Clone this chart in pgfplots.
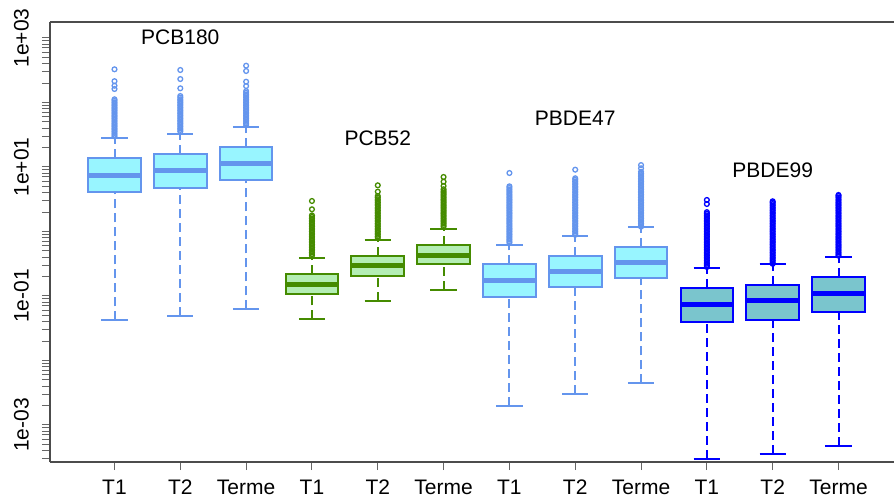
\documentclass[border=0pt]{standalone}
\usepackage{fontspec}
\setmainfont{Liberation Sans}
\usepackage{pgfplots}
\pgfplotsset{compat=1.18}
\definecolor{cfill}{HTML}{98F5FF}
\definecolor{cline}{HTML}{6495ED}
\definecolor{gfill}{HTML}{B4EEB4}
\definecolor{gline}{HTML}{458B00}
\definecolor{dfill}{HTML}{7AC5CD}
\definecolor{dline}{HTML}{0000FF}
\newcommand{\bigfont}{\fontsize{21}{25}\selectfont}
% #1 line colour, #2 fill colour, #3 position, #4 lower whisker, #5 Q1, #6 median, #7 Q3, #8 upper whisker
\newcommand{\bx}[8]{%
  \pgfmathsetmacro{\bL}{#3-0.4}\pgfmathsetmacro{\bR}{#3+0.4}%
  \pgfmathsetmacro{\cL}{#3-0.2}\pgfmathsetmacro{\cR}{#3+0.2}%
  \addplot[draw=#1, line width=2pt, dash pattern=on 9pt off 5pt] coordinates {(#3,#4) (#3,#5)};
  \addplot[draw=#1, line width=2pt, dash pattern=on 9pt off 5pt] coordinates {(#3,#7) (#3,#8)};
  \addplot[draw=#1, line width=2pt] coordinates {(\cL,#4) (\cR,#4)};
  \addplot[draw=#1, line width=2pt] coordinates {(\cL,#8) (\cR,#8)};
  \addplot[draw=#1, fill=#2, line width=2pt] coordinates {(\bL,#5) (\bR,#5) (\bR,#7) (\bL,#7)} --cycle;
  \addplot[draw=#1, line width=5pt] coordinates {(\bL,#6) (\bR,#6)};
}
\pgfplotsset{
  omark/.style={only marks, mark=o, mark size=2.4pt,
    mark options={draw=#1, fill=none, solid, line width=1.3pt}},
}
\begin{document}
\begin{tikzpicture}
\path[use as bounding box] (-50pt,-37pt) rectangle (844pt,462pt);
\begin{axis}[
  scale only axis, width=853pt, height=440pt,
  xmin=0.02, xmax=12.98,
  ymode=log, ymin=2.667e-4, ymax=1770,
  axis x line*=box, axis y line*=left,
  axis line style={line width=1.3pt, black!70},
  tick style={line width=1pt, black!60},
  tick align=outside,
  major tick length=8pt, minor tick length=8pt,
  xtick={1,...,12}, xtick pos=left,
  xticklabels={T1,T2,Terme,T1,T2,Terme,T1,T2,Terme,T1,T2,Terme},
  xticklabel style={font=\bigfont, inner sep=0pt, anchor=north, yshift=-10pt},
  ytick={1e-3,1e-1,1e1,1e3}, ytick pos=left,
  yticklabels={1e-03,1e-01,1e+01,1e+03},
  yticklabel style={font=\bigfont, rotate=90, anchor=south, inner sep=0pt, yshift=13pt},
  minor ytick={3e-4,4e-4,5e-4,6e-4,7e-4,8e-4,9e-4,
    2e-3,3e-3,4e-3,5e-3,6e-3,7e-3,8e-3,9e-3,1e-2,
    2e-2,3e-2,4e-2,5e-2,6e-2,7e-2,8e-2,9e-2,
    2e-1,3e-1,4e-1,5e-1,6e-1,7e-1,8e-1,9e-1,1,
    2,3,4,5,6,7,8,9,
    20,30,40,50,60,70,80,90,100,
    200,300,400,500,600,700,800,900},
  /pgf/number format/assume math mode=true,
]
% PCB180
\bx{cline}{cfill}{1}{0.042}{4.05}{7.5}{13.9}{27.9}
\addplot[omark=cline] table[row sep=\\, x expr=1, y index=0] {v\\29.9\\31.6\\33.5\\35.5\\37.6\\39.8\\42.2\\44.7\\47.3\\50.1\\53.1\\56.2\\59.6\\63.1\\66.8\\70.8\\75.0\\79.4\\84.1\\89.1\\94.4\\100\\106\\112\\162\\182\\214\\327\\};
\bx{cline}{cfill}{2}{0.0495}{4.78}{8.98}{16.1}{32.8}
\addplot[omark=cline] table[row sep=\\, x expr=2, y index=0] {v\\35.5\\37.6\\39.8\\42.2\\44.7\\47.3\\50.1\\53.1\\56.2\\59.6\\63.1\\66.8\\70.8\\75.0\\79.4\\84.1\\89.1\\94.4\\100\\106\\112\\119\\126\\166\\231\\319\\};
\bx{cline}{cfill}{3}{0.0622}{6.3}{11.5}{20.4}{41.7}
\addplot[omark=cline] table[row sep=\\, x expr=3, y index=0] {v\\44.7\\47.3\\50.1\\53.1\\56.2\\59.6\\63.1\\66.8\\70.8\\75.0\\79.4\\84.1\\89.1\\94.4\\100\\106\\112\\119\\126\\133\\141\\150\\180\\210\\308\\372\\};
% PCB52
\bx{gline}{gfill}{4}{0.0435}{0.107}{0.152}{0.219}{0.393}
\addplot[omark=gline] table[row sep=\\, x expr=4, y index=0] {v\\0.422\\0.447\\0.473\\0.501\\0.531\\0.562\\0.596\\0.631\\0.668\\0.708\\0.750\\0.794\\0.841\\0.891\\0.944\\1.0\\1.059\\1.122\\1.189\\1.259\\1.334\\1.413\\1.496\\1.585\\1.679\\1.778\\2.21\\2.97\\};
\bx{gline}{gfill}{5}{0.0836}{0.206}{0.292}{0.417}{0.738}
\addplot[omark=gline] table[row sep=\\, x expr=5, y index=0] {v\\0.794\\0.841\\0.891\\0.944\\1.0\\1.059\\1.122\\1.189\\1.259\\1.334\\1.413\\1.496\\1.585\\1.679\\1.778\\1.884\\1.995\\2.113\\2.239\\2.371\\2.512\\2.661\\2.818\\2.985\\3.162\\3.350\\3.548\\4.14\\5.20\\};
\bx{gline}{gfill}{6}{0.125}{0.310}{0.421}{0.618}{1.10}
\addplot[omark=gline] table[row sep=\\, x expr=6, y index=0] {v\\1.189\\1.259\\1.334\\1.413\\1.496\\1.585\\1.679\\1.778\\1.884\\1.995\\2.113\\2.239\\2.371\\2.512\\2.661\\2.818\\2.985\\3.162\\3.350\\3.548\\3.758\\3.981\\4.217\\4.51\\5.07\\5.92\\7.0\\};
% PBDE47
\bx{cline}{cfill}{7}{0.00197}{0.0955}{0.171}{0.310}{0.618}
\addplot[omark=cline] table[row sep=\\, x expr=7, y index=0] {v\\0.668\\0.708\\0.750\\0.794\\0.841\\0.891\\0.944\\1.0\\1.059\\1.122\\1.189\\1.259\\1.334\\1.413\\1.496\\1.585\\1.679\\1.778\\1.884\\1.995\\2.113\\2.239\\2.371\\2.512\\2.661\\2.818\\2.985\\3.162\\3.350\\3.548\\3.758\\3.981\\4.217\\4.467\\4.732\\5.012\\8.07\\};
\bx{cline}{cfill}{8}{0.00303}{0.136}{0.236}{0.417}{0.843}
\addplot[omark=cline] table[row sep=\\, x expr=8, y index=0] {v\\0.891\\0.944\\1.0\\1.059\\1.122\\1.189\\1.259\\1.334\\1.413\\1.496\\1.585\\1.679\\1.778\\1.884\\1.995\\2.113\\2.239\\2.371\\2.512\\2.661\\2.818\\2.985\\3.162\\3.350\\3.548\\3.758\\3.981\\4.217\\4.467\\4.732\\5.012\\5.309\\5.623\\5.957\\6.310\\6.683\\9.08\\};
\bx{cline}{cfill}{9}{0.00443}{0.188}{0.333}{0.581}{1.16}
\addplot[omark=cline] table[row sep=\\, x expr=9, y index=0] {v\\1.189\\1.259\\1.334\\1.413\\1.496\\1.585\\1.679\\1.778\\1.884\\1.995\\2.113\\2.239\\2.371\\2.512\\2.661\\2.818\\2.985\\3.162\\3.350\\3.548\\3.758\\3.981\\4.217\\4.467\\4.732\\5.012\\5.309\\5.623\\5.957\\6.310\\6.683\\7.079\\7.499\\7.943\\8.414\\9.55\\10.7\\};
% PBDE99
\bx{dline}{dfill}{10}{0.000297}{0.0391}{0.0743}{0.135}{0.275}
\addplot[omark=dline] table[row sep=\\, x expr=10, y index=0] {v\\0.282\\0.299\\0.316\\0.335\\0.355\\0.376\\0.398\\0.422\\0.447\\0.473\\0.501\\0.531\\0.562\\0.596\\0.631\\0.668\\0.708\\0.750\\0.794\\0.841\\0.891\\0.944\\1.0\\1.059\\1.122\\1.189\\1.259\\1.334\\1.413\\1.496\\1.585\\1.679\\1.778\\1.884\\1.995\\2.67\\3.08\\};
\bx{dline}{dfill}{11}{0.000352}{0.0430}{0.0846}{0.148}{0.310}
\addplot[omark=dline] table[row sep=\\, x expr=11, y index=0] {v\\0.316\\0.335\\0.355\\0.376\\0.398\\0.422\\0.447\\0.473\\0.501\\0.531\\0.562\\0.596\\0.631\\0.668\\0.708\\0.750\\0.794\\0.841\\0.891\\0.944\\1.0\\1.059\\1.122\\1.189\\1.259\\1.334\\1.413\\1.496\\1.585\\1.679\\1.778\\1.884\\1.995\\2.113\\2.239\\2.371\\2.512\\2.661\\2.818\\2.94\\};
\bx{dline}{dfill}{12}{0.000478}{0.0565}{0.110}{0.197}{0.403}
\addplot[omark=dline] table[row sep=\\, x expr=12, y index=0] {v\\0.422\\0.447\\0.473\\0.501\\0.531\\0.562\\0.596\\0.631\\0.668\\0.708\\0.750\\0.794\\0.841\\0.891\\0.944\\1.0\\1.059\\1.122\\1.189\\1.259\\1.334\\1.413\\1.496\\1.585\\1.679\\1.778\\1.884\\1.995\\2.113\\2.239\\2.371\\2.512\\2.661\\2.818\\2.985\\3.162\\3.350\\3.548\\3.68\\};
\node[font=\bigfont] at (axis cs:2,1036) {PCB180};
\node[font=\bigfont] at (axis cs:5,28.2) {PCB52};
\node[font=\bigfont] at (axis cs:8,57.5) {PBDE47};
\node[font=\bigfont] at (axis cs:11,8.98) {PBDE99};
\draw[line width=1.3pt, black!70] (rel axis cs:0,1) -- (rel axis cs:1,1);
\end{axis}
\end{tikzpicture}
\end{document}
